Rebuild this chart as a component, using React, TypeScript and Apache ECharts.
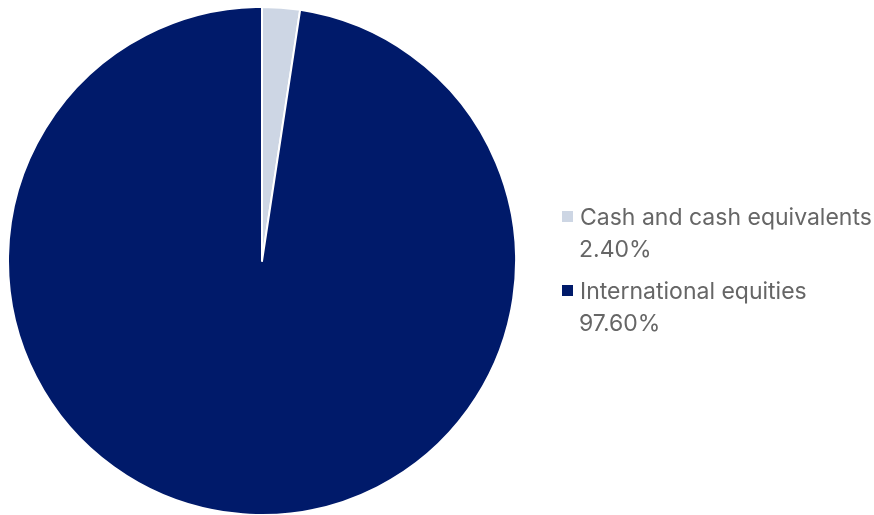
import React, { useEffect, useRef } from "react";
import * as echarts from "echarts";

const categories = ["Cash and cash equivalents", "International equities"];
const values = [2.4, 97.6];
const colors = ["#CDD6E4", "#001A6A"];

export default function App() {
  const ref = useRef<HTMLDivElement>(null);
  useEffect(() => {
    if (!ref.current) return;
    const chart = echarts.init(ref.current, null, { renderer: "svg" });
    const font = "Inter, 'Noto Sans', sans-serif";
    const legendTops = [205, 279];
    chart.setOption({
      animation: false,
      color: colors,
      legend: categories.map((c, i) => ({
        data: [c],
        orient: "vertical",
        left: 560,
        top: legendTops[i],
        padding: 0,
        icon: "rect",
        itemWidth: 13,
        itemHeight: 13,
        itemGap: 6,
        selectedMode: false,
        textStyle: { color: "#666666", fontSize: 23, fontFamily: font, padding: [0, 0, 0, 1] },
      })),
      graphic: values.map((v, i) => ({
        type: "text",
        left: 579,
        top: legendTops[i] + 32.5,
        style: {
          text: v.toFixed(2) + "%",
          fill: "#666666",
          font: `23px ${font}`,
        },
      })),
      series: [
        {
          type: "pie",
          center: [262, 261],
          radius: 254,
          startAngle: 90,
          clockwise: true,
          label: { show: false },
          labelLine: { show: false },
          emphasis: { disabled: true },
          itemStyle: { borderColor: "#ffffff", borderWidth: 2 },
          data: categories.map((c, i) => ({ name: c, value: values[i] })),
        },
      ],
    });
    return () => chart.dispose();
  }, []);
  return (
    <div
      ref={ref}
      style={{ position: "fixed", left: 0, top: 0, width: 874, height: 515 }}
    />
  );
}
